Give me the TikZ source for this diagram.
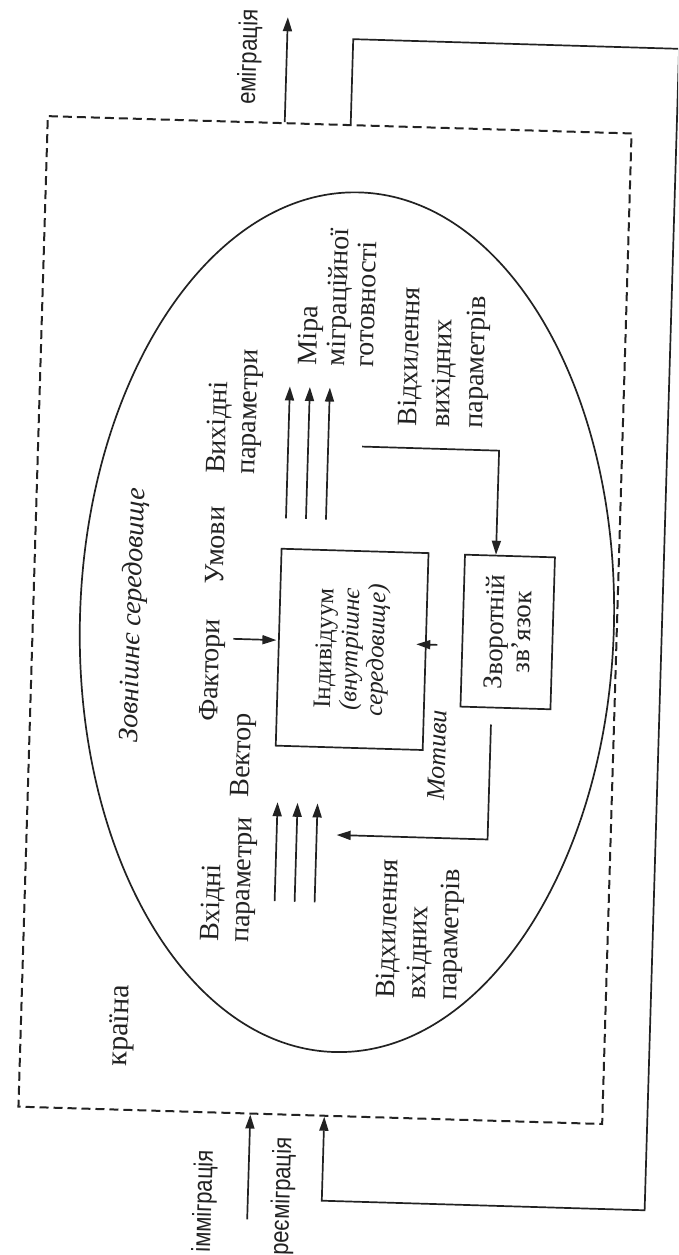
\documentclass[tikz,border=0pt]{standalone}
\usepackage{fontspec}
\setmainfont{Liberation Serif}
\newfontfamily\migfont[FakeStretch=0.85]{Liberation Sans}
\usetikzlibrary{arrows.meta,positioning,shapes.geometric}
\definecolor{ink}{HTML}{222222}

\begin{document}
\begin{tikzpicture}[
    x=1pt, y=-1pt,
    color=ink,
    line width=1.7pt,
    every node/.style={inner sep=0pt, font=\fontsize{28}{30}\selectfont},
    upright/.style={rotate=90},
    block/.style={rotate=90, align=left, anchor=west},
    box/.style={rotate=90, draw, align=center},
    slanted/.style={rotate=90, font=\itshape\fontsize{27}{30}\selectfont},
    mig/.style={rotate=90, font=\migfont\fontsize{26}{30}\selectfont},
    border/.style={draw, dash pattern=on 9pt off 5pt, line width=2pt},
    arr/.style={-{Triangle[length=14pt,width=9pt]}}
    ]

\fill[white] (0,0) rectangle (678,1255);
\useasboundingbox (0,0) rectangle (678,1255);
\clip (0,0) rectangle (678,1255);

\begin{scope}[rotate around={-1.7:(340,620)}, transform shape]

\node[border, minimum width=584pt, minimum height=991pt] (country) at (325,620.5) {};
\node[draw, ellipse, minimum width=534pt, minimum height=860pt] (env) at (347,622) {};

\node[box, minimum width=197pt, minimum height=147pt,
      font=\fontsize{25}{26}\selectfont] (indiv) at (353,649)
    {Індивідуум\\\textit{(внутрішнє}\\\textit{середовище)}};
\node[box, minimum width=152pt, minimum height=90pt,
      font=\fontsize{27}{27}\selectfont] (fb) at (508,627) {Зворотній\\зв’язок};

\node[slanted, font=\itshape\fontsize{28}{30}\selectfont] (outer) at (134,621) {Зовнішнє середовище};
\node[upright] (cond) at (213,549) {Умови};
\node[upright] (fact) at (214,674) {Фактори};
\node[upright] (vect) at (248,758) {Вектор};
\node[slanted, font=\itshape\fontsize{26}{30}\selectfont] (motiv) at (441,752) {Мотиви};
\node[upright, font=\fontsize{30}{32}\selectfont] (land) at (134,1032) {країна};

\node[block] (outp) at (229,478) {Вихідні\\параметри};
\node[block] (inp) at (237,946) {Вхідні\\параметри};
\node[block, font=\fontsize{28}{28.5}\selectfont] (mira) at (328,367) {Міра\\міграційної\\готовності};
\node[block, font=\fontsize{28}{33}\selectfont] (devout) at (437,425) {Відхилення\\вихідних\\параметрів};
\node[block, font=\fontsize{28}{31}\selectfont] (devin) at (430,998) {Відхилення\\вхідних\\параметрів};

\node[mig] (emitxt) at (233,60) {еміграція};
\node[mig] (immtxt) at (222,1205) {імміграція};
\node[mig] (reetxt) at (300,1198) {реєміграція};

\coordinate (emitop) at (270,19);
\coordinate (immlow) at (265,1222);
\draw[arr] (270,0 |- country.north) -- (emitop);
\draw[arr] (immlow) -- (265,0 |- country.south);
\draw[arr] (336,0 |- country.north) -- (336,39) -- (662,39) -- (662,1201)
    -- (339,1201) -- (339,0 |- country.south);

\foreach \x in {283,303,323} {
    \coordinate (out\x) at (\x,520);
    \draw[arr] (out\x) -- (\x,388);
}
\foreach \x in {283,303,323} {
    \coordinate (in\x) at (\x,903);
    \draw[arr] (in\x) -- (\x,804);
}

\coordinate (factend) at (234,642);
\coordinate (motend) at (438,642);
\draw[arr] (factend) -- (277,642);
\draw[arr] (motend) -- (417,642);

\coordinate (fbstart) at (357,446);
\coordinate (fbend) at (494,720);
\draw[arr] (fbstart) -- (494,446) -- (494,0 |- fb.east);
\draw[arr] (fbend) -- (494,835) -- (343,835);

\end{scope}
\end{tikzpicture}
\end{document}
